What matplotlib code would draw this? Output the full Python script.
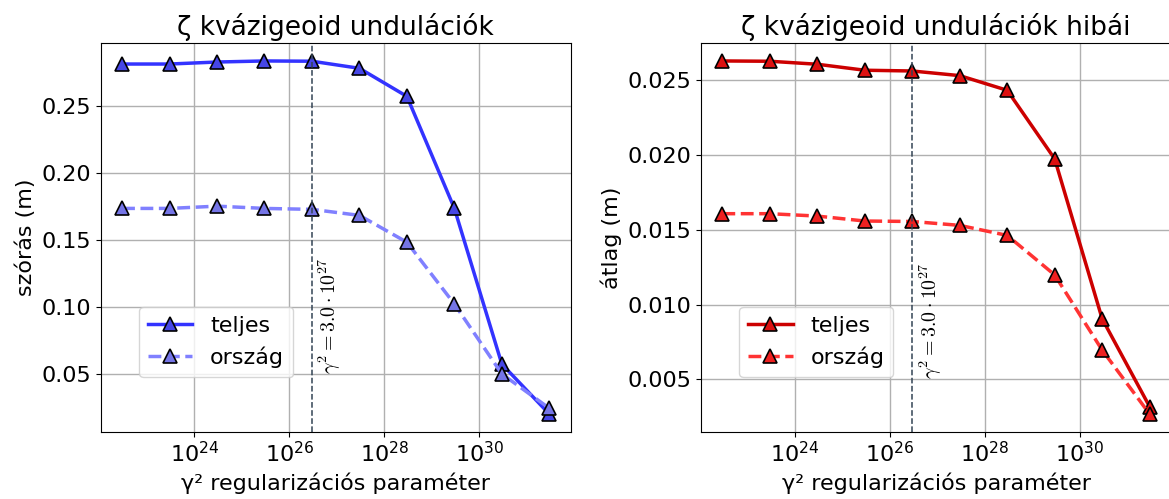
import numpy as np
import matplotlib
matplotlib.use("Agg")
import matplotlib.pyplot as plt

# regularization parameter values (gamma^2)
gamma2 = [3e22, 3e23, 3e24, 3e25, 3e26, 3e27, 3e28, 3e29, 3e30, 3e31]
gamma2_opt = 3e26

# left panel: std of quasigeoid undulations (m)
std_teljes = [0.2817, 0.2817, 0.2832, 0.2840, 0.2838, 0.2785, 0.2575, 0.1737, 0.0572, 0.0199]
std_orszag = [0.1737, 0.1737, 0.1754, 0.1737, 0.1730, 0.1685, 0.1484, 0.1022, 0.0499, 0.0242]

# right panel: mean of errors (m)
err_teljes = [0.02627, 0.02625, 0.02605, 0.02565, 0.02560, 0.02529, 0.02431, 0.01973, 0.00905, 0.00318]
err_orszag = [0.01607, 0.01607, 0.01591, 0.01558, 0.01555, 0.01529, 0.01462, 0.01198, 0.00696, 0.00269]

W, H = 1169, 499
fig = plt.figure(figsize=(W / 100, H / 100), dpi=100)
fig.patch.set_facecolor('white')

ax_b, ax_h, ax_w = 67.3 / H, 388.4 / H, 470 / W
ax1 = fig.add_axes([100.7 / W, ax_b, ax_w, ax_h])
ax2 = fig.add_axes([701 / W, ax_b, ax_w, ax_h])

panels = [
    (ax1, std_teljes, std_orszag, ('#3333ff', '#4646e6'), ('#8080ff', '#7575e6'),
     'ζ kvázigeoid undulációk', 'szórás (m)', 0.05),
    (ax2, err_teljes, err_orszag, ('#cc0000', '#dd1010'), ('#ff3333', '#ee2020'),
     'ζ kvázigeoid undulációk hibái', 'átlag (m)', 0.005),
]

for ax, teljes, orszag, c1, c2, title, ylabel, ytext in panels:
    ax.plot(gamma2, teljes, '-', color=c1[0], lw=2.5, marker='^', ms=10,
            mfc=c1[1], mec='black', mew=1.2, label='teljes')
    ax.plot(gamma2, orszag, '--', color=c2[0], lw=2.5, marker='^', ms=10,
            mfc=c2[1], mec='black', mew=1.2, label='ország')
    ax.set_xscale('log')
    ax.set_xticks([1e24, 1e26, 1e28, 1e30])
    ax.xaxis.set_minor_locator(matplotlib.ticker.NullLocator())
    ax.axvline(gamma2_opt, color='#334455', ls='--', lw=1.1)
    ax.text(gamma2_opt * 1.27, ytext, r'$\gamma^2 = 3.0 \cdot 10^{27}$', rotation=90,
            ha='left', va='bottom', fontsize=14.3, math_fontfamily='cm')
    ax.grid(True, color='#b0b0b0', lw=1)
    ax.set_axisbelow(True)
    ax.set_title(title, fontsize=19)
    ax.set_ylabel(ylabel, fontsize=16)
    ax.set_xlabel('γ² regularizációs paraméter', fontsize=16)
    ax.tick_params(labelsize=16)
    ax.legend(loc='lower left', bbox_to_anchor=(0.058, 0.112), fontsize=16)

fig.savefig('out.png', dpi=100, facecolor='white')
